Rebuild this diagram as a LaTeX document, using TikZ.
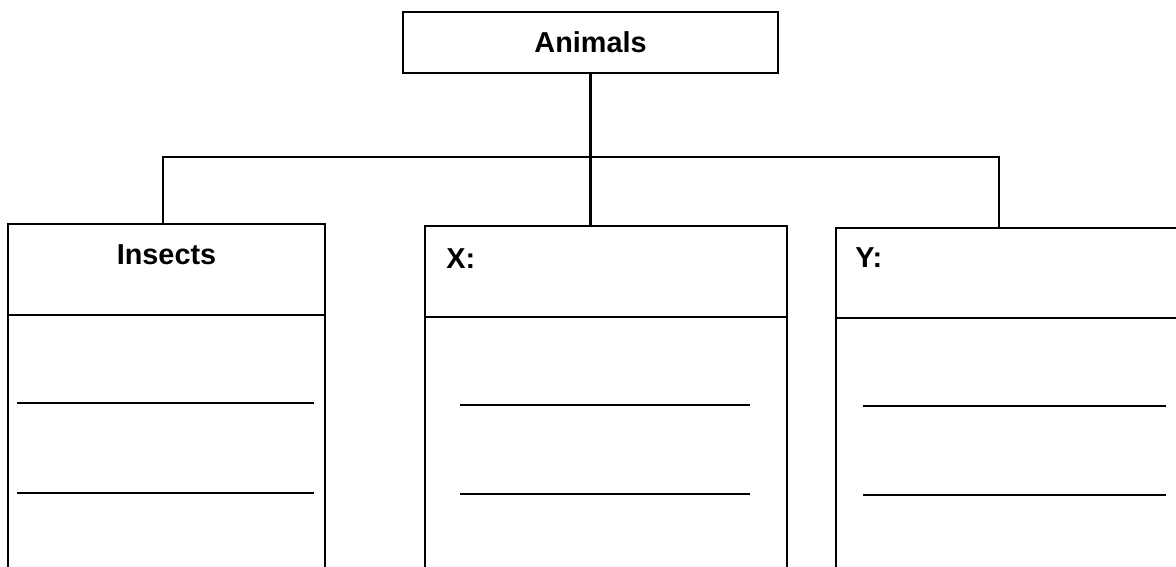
\documentclass[tikz,border=0pt]{standalone}
\usepackage{fontspec}
\setmainfont{Liberation Sans}
\usetikzlibrary{positioning}
\tikzset{
chart/.style={
    line width=0.8pt,
    font=\fontsize{8.2}{10}\selectfont\bfseries
},
box/.style={
    rectangle,
    draw,
    outer sep=0pt,
    inner sep=0pt
},
head/.style={
    box,
    minimum height=0.91cm
},
body/.style={
    box,
    minimum height=3.2cm
},
caption/.style={
    inner sep=0pt
},
link/.style={
    -
},
rule/.style={
    -
}}

\begin{document}
\begin{tikzpicture}[chart]
\useasboundingbox (0,0) rectangle (11.76,5.66);
\clip (0,0) rectangle (11.76,5.66);

\node    (animals) [box, minimum width=3.75cm, minimum height=0.61cm] at (5.905,5.235) {Animals};

\node    (inshd) [head, minimum width=3.17cm] at (1.665,2.965)  {};
\node    (insbd) [body, minimum width=3.17cm, below=0pt of inshd] {};
\node    (xhd)   [head, minimum width=3.62cm] at (6.06,2.945)   {};
\node    (xbd)   [body, minimum width=3.62cm, below=0pt of xhd]  {};
\node    (yhd)   [head, minimum width=4cm, minimum height=0.9cm] at (10.36,2.93) {};
\node    (ybd)   [body, minimum width=4cm, below=0pt of yhd]     {};

\node    (instx) [caption, below=0.19 of inshd.north]                {Insects};
\node    (xtx)   [caption, below right=0.21 and 0.20 of xhd.north west] {X:};
\node    (ytx)   [caption, below right=0.18 and 0.18 of yhd.north west] {Y:};

\coordinate (busl) at (1.63,4.09);
\coordinate (busr) at (9.99,4.09);

\draw    [link] (animals.south) -- (animals.south |- xhd.north);
\draw    [link] (busl |- inshd.north) -- (busl) -- (busr) -- (busr |- yhd.north);

\draw    [rule] ([xshift=0.09cm,yshift=-0.88cm]insbd.north west) -- ([xshift=3.06cm,yshift=-0.88cm]insbd.north west);
\draw    [rule] ([xshift=0.09cm,yshift=-1.78cm]insbd.north west) -- ([xshift=3.06cm,yshift=-1.78cm]insbd.north west);

\draw    [rule] ([xshift=0.35cm,yshift=-0.88cm]xbd.north west) -- ([xshift=3.25cm,yshift=-0.88cm]xbd.north west);
\draw    [rule] ([xshift=0.35cm,yshift=-1.77cm]xbd.north west) -- ([xshift=3.25cm,yshift=-1.77cm]xbd.north west);

\draw    [rule] ([xshift=0.27cm,yshift=-0.88cm]ybd.north west) -- ([xshift=3.30cm,yshift=-0.88cm]ybd.north west);
\draw    [rule] ([xshift=0.27cm,yshift=-1.77cm]ybd.north west) -- ([xshift=3.30cm,yshift=-1.77cm]ybd.north west);
\end{tikzpicture}
\end{document}
